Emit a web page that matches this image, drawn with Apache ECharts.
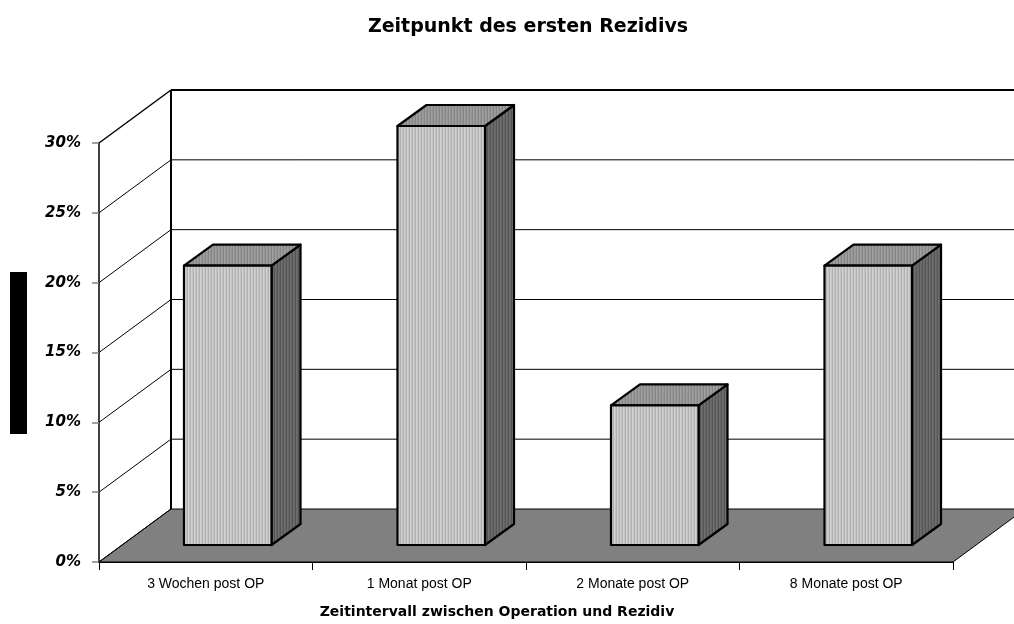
<!DOCTYPE html>
<html>
<head>
<meta charset="utf-8">
<script src="https://cdn.jsdelivr.net/npm/echarts@6/dist/echarts.min.js"></script>
<style>
  html, body { margin: 0; padding: 0; background: #fff; }
  #chart { width: 1014px; height: 624px; }
</style>
</head>
<body>
<div id="chart"></div>
<script>
// Daten
const categories = ['3 Wochen post OP', '1 Monat post OP', '2 Monate post OP', '8 Monate post OP'];
const shares = [0.20, 0.30, 0.10, 0.20];
const yTicks = [0, 0.05, 0.10, 0.15, 0.20, 0.25, 0.30];

// 3D-Versatz (Pixel)
const WALL_DX = 72, WALL_DY = -53;   // Tiefe der Rueckwand
const BAR_FX = 22, BAR_FY = -17;     // Vorderkante der Saeulen
const BAR_DX = 29, BAR_DY = -21;     // Tiefe der Saeulen

function stripes(colors) {
  const c = document.createElement('canvas');
  c.width = colors.length; c.height = 4;
  const ctx = c.getContext('2d');
  colors.forEach((col, i) => { ctx.fillStyle = col; ctx.fillRect(i, 0, 1, 4); });
  return { image: c, repeat: 'repeat' };
}
const frontFill = stripes(['#c4c4c4', '#b0b0b0', '#d2d2d2']);
const sideFill = stripes(['#666666', '#555555', '#6e6e6e']);
const topFill = stripes(['#959595', '#858585', '#a0a0a0']);

const chart = echarts.init(document.getElementById('chart'));

function renderWalls(params, api) {
  const band = api.size([1, 0])[0];
  const xL = api.coord([0, 0])[0] - band / 2;
  const xR = api.coord([categories.length - 1, 0])[0] + band / 2;
  const y0 = api.coord([0, 0])[1];
  const yTop = api.coord([0, yTicks[yTicks.length - 1]])[1];
  const children = [];
  // Boden
  children.push({
    type: 'polygon',
    shape: { points: [[xL, y0], [xR, y0], [xR + WALL_DX, y0 + WALL_DY], [xL + WALL_DX, y0 + WALL_DY]] },
    style: { fill: '#808080', stroke: '#000', lineWidth: 1 }
  });
  yTicks.forEach((v, i) => {
    const y = api.coord([0, v])[1];
    const last = i === yTicks.length - 1;
    if (v > 0) {
      children.push({
        type: 'line',
        shape: { x1: xL + WALL_DX, y1: y + WALL_DY, x2: xR + WALL_DX + 10, y2: y + WALL_DY },
        style: { stroke: '#000', lineWidth: last ? 2 : 1 }
      });
    }
    children.push({
      type: 'line',
      shape: { x1: xL, y1: y, x2: xL + WALL_DX, y2: y + WALL_DY },
      style: { stroke: '#000', lineWidth: last ? 1.5 : 1 }
    });
  });
  children.push({
    type: 'line',
    shape: { x1: xL + WALL_DX, y1: yTop + WALL_DY, x2: xL + WALL_DX, y2: y0 + WALL_DY },
    style: { stroke: '#000', lineWidth: 2 }
  });
  return { type: 'group', children: children };
}

function renderBar(params, api) {
  const idx = api.value(0);
  const band = api.size([1, 0])[0];
  const w = band * 0.41;
  const top = api.coord([idx, api.value(1)]);
  const base = api.coord([idx, 0]);
  const x1 = top[0] - w / 2 + BAR_FX;
  const x2 = top[0] + w / 2 + BAR_FX;
  const yt = top[1] + BAR_FY;
  const yb = base[1] + BAR_FY;
  const border = { stroke: '#000', lineWidth: 2.2, lineJoin: 'round' };
  return {
    type: 'group',
    children: [
      {
        type: 'polygon',
        shape: { points: [[x2, yt], [x2 + BAR_DX, yt + BAR_DY], [x2 + BAR_DX, yb + BAR_DY], [x2, yb]] },
        style: Object.assign({ fill: sideFill }, border)
      },
      {
        type: 'polygon',
        shape: { points: [[x1, yt], [x1 + BAR_DX, yt + BAR_DY], [x2 + BAR_DX, yt + BAR_DY], [x2, yt]] },
        style: Object.assign({ fill: topFill }, border)
      },
      {
        type: 'rect',
        shape: { x: x1, y: yt, width: x2 - x1, height: yb - yt },
        style: Object.assign({ fill: frontFill }, border)
      }
    ]
  };
}

const option = {
  backgroundColor: '#fff',
  animation: false,
  grid: { left: 99, right: 61, top: 143, bottom: 62 },
  xAxis: {
    type: 'category',
    data: categories,
    boundaryGap: true,
    axisLine: { lineStyle: { color: '#000', width: 1 } },
    axisTick: { show: true, length: 8, lineStyle: { color: '#000' } },
    axisLabel: { margin: 15, fontSize: 14, color: '#000', fontFamily: 'Liberation Sans' },
    z: 5
  },
  yAxis: {
    type: 'value',
    min: 0,
    max: 0.3,
    interval: 0.05,
    axisLine: { show: true, lineStyle: { color: '#000', width: 1.5 } },
    axisTick: { show: true, length: 7, lineStyle: { color: '#808080', width: 1.5 } },
    splitLine: { show: false },
    axisLabel: {
      margin: 18,
      fontSize: 15,
      fontWeight: 'bold',
      fontStyle: 'italic',
      color: '#000',
      fontFamily: 'DejaVu Sans',
      formatter: v => Math.round(v * 100) + '%'
    }
  },
  graphic: [
    { type: 'rect', left: 10, top: 272, shape: { width: 17, height: 162 }, style: { fill: '#000' } },
    {
      type: 'text', x: 528, y: 27,
      style: {
        text: 'Zeitpunkt des ersten Rezidivs', align: 'center', verticalAlign: 'middle',
        font: 'bold 19px "DejaVu Sans"', fill: '#000'
      }
    },
    {
      type: 'text', x: 497, y: 612,
      style: {
        text: 'Zeitintervall zwischen Operation und Rezidiv', align: 'center', verticalAlign: 'middle',
        font: 'bold 14px "DejaVu Sans"', fill: '#000'
      }
    }
  ],
  series: [
    {
      type: 'custom',
      name: 'walls',
      renderItem: renderWalls,
      data: [[0, 0]],
      clip: false,
      silent: true,
      z: 1
    },
    {
      type: 'custom',
      name: 'Anteil',
      renderItem: renderBar,
      data: shares.map((v, i) => [i, v]),
      clip: false,
      z: 3
    }
  ]
};

chart.setOption(option);
</script>
</body>
</html>
